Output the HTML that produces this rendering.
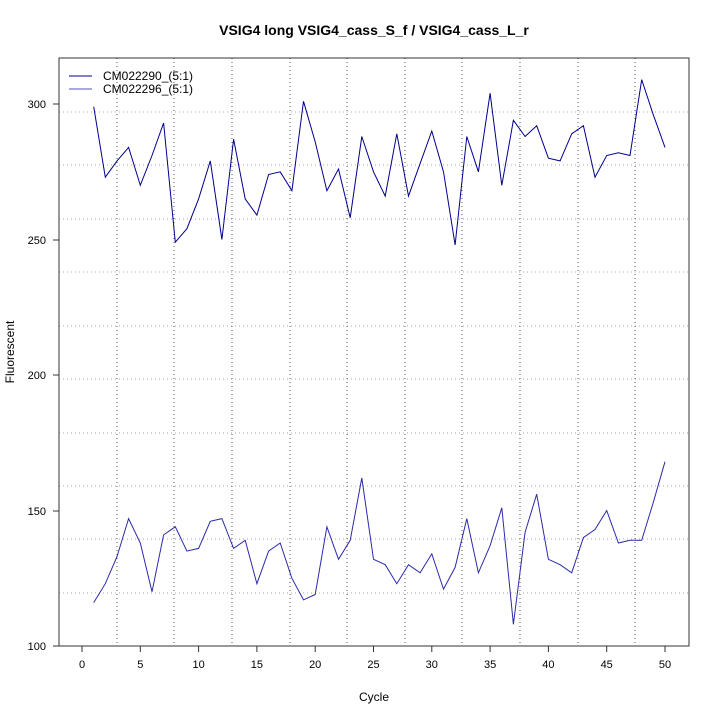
<!DOCTYPE html>
<html><head><meta charset="utf-8"><style>body{margin:0;background:#fff}svg{display:block;font-family:"Liberation Sans",sans-serif}</style></head><body>
<svg id="s" width="720" height="720" xmlns="http://www.w3.org/2000/svg">
<rect width="720" height="720" fill="#fff"/>
<text x="374" y="35" font-size="14" font-weight="bold" text-anchor="middle">VSIG4 long VSIG4_cass_S_f / VSIG4_cass_L_r</text>
<g stroke="#aaa" stroke-dasharray="1,3" stroke-width="1">
<line x1="59" x2="689" y1="112" y2="112"/><line x1="59" x2="689" y1="165" y2="165"/><line x1="59" x2="689" y1="219" y2="219"/><line x1="59" x2="689" y1="272" y2="272"/><line x1="59" x2="689" y1="326" y2="326"/><line x1="59" x2="689" y1="379" y2="379"/><line x1="59" x2="689" y1="433" y2="433"/><line x1="59" x2="689" y1="486" y2="486"/><line x1="59" x2="689" y1="539" y2="539"/><line x1="59" x2="689" y1="593" y2="593"/>
</g>
<g stroke="#555" stroke-dasharray="1,3" stroke-width="1">
<line y1="58" y2="646" x1="117" x2="117"/><line y1="58" y2="646" x1="174" x2="174"/><line y1="58" y2="646" x1="232" x2="232"/><line y1="58" y2="646" x1="290" x2="290"/><line y1="58" y2="646" x1="347" x2="347"/><line y1="58" y2="646" x1="405" x2="405"/><line y1="58" y2="646" x1="462" x2="462"/><line y1="58" y2="646" x1="520" x2="520"/><line y1="58" y2="646" x1="578" x2="578"/><line y1="58" y2="646" x1="635" x2="635"/>
</g>
<rect x="59" y="58" width="630" height="588" fill="none" stroke="#333"/>
<g stroke="#333"><line x1="53" x2="59" y1="646" y2="646"/><line x1="53" x2="59" y1="511" y2="511"/><line x1="53" x2="59" y1="375" y2="375"/><line x1="53" x2="59" y1="240" y2="240"/><line x1="53" x2="59" y1="104" y2="104"/></g>
<g font-size="11" text-anchor="end"><text x="46" y="650">100</text><text x="46" y="515">150</text><text x="46" y="379">200</text><text x="46" y="244">250</text><text x="46" y="108">300</text></g>
<g id="xt" font-size="11" text-anchor="middle"></g>
<text x="374" y="701" font-size="12" text-anchor="middle">Cycle</text>
<text transform="translate(14,352) rotate(-90)" font-size="12" text-anchor="middle">Fluorescent</text>
<line x1="69" x2="92" y1="76" y2="76" stroke="#00008B"/>
<line x1="69" x2="92" y1="89" y2="89" stroke="#5050c0"/>
<text x="103" y="80" font-size="12">CM022290_(5:1)</text>
<text x="103" y="93" font-size="12">CM022296_(5:1)</text>
<polyline id="p1" fill="none" stroke="#00008B" stroke-width="1"/>
<polyline id="p2" fill="none" stroke="#2a2aa8" stroke-width="1"/>
</svg>
<script>
var a=[299,273,279,284,270,281,293,249,254,265,279,250,287,265,259,274,275,268,301,286,268,276,258,288,275,266,289,266,278,290,275,248,288,275,304,270,294,288,292,280,279,289,292,273,281,282,281,309,296,284];
var b=[116,123,133,147,138,120,141,144,135,136,146,147,136,139,123,135,138,125,117,119,144,132,139,162,132,130,123,130,127,134,121,129,147,127,137,151,108,142,156,132,130,127,140,143,150,138,139,139,153,168];
function X(c){return 82+c*11.66}function Y(v){return 646-(v-100)*2.71}
function pts(d){return d.map(function(v,i){return X(i+1).toFixed(1)+","+Y(v).toFixed(1)}).join(" ")}
document.getElementById("p1").setAttribute("points",pts(a));
document.getElementById("p2").setAttribute("points",pts(b));
var g=document.getElementById("xt"),h="";
for(var c=0;c<=50;c+=5){var x=X(c).toFixed(1);h+='<line x1="'+x+'" x2="'+x+'" y1="646" y2="652" stroke="#333"/><text x="'+x+'" y="668">'+c+'</text>';}
g.innerHTML=h;
</script>
</body></html>
